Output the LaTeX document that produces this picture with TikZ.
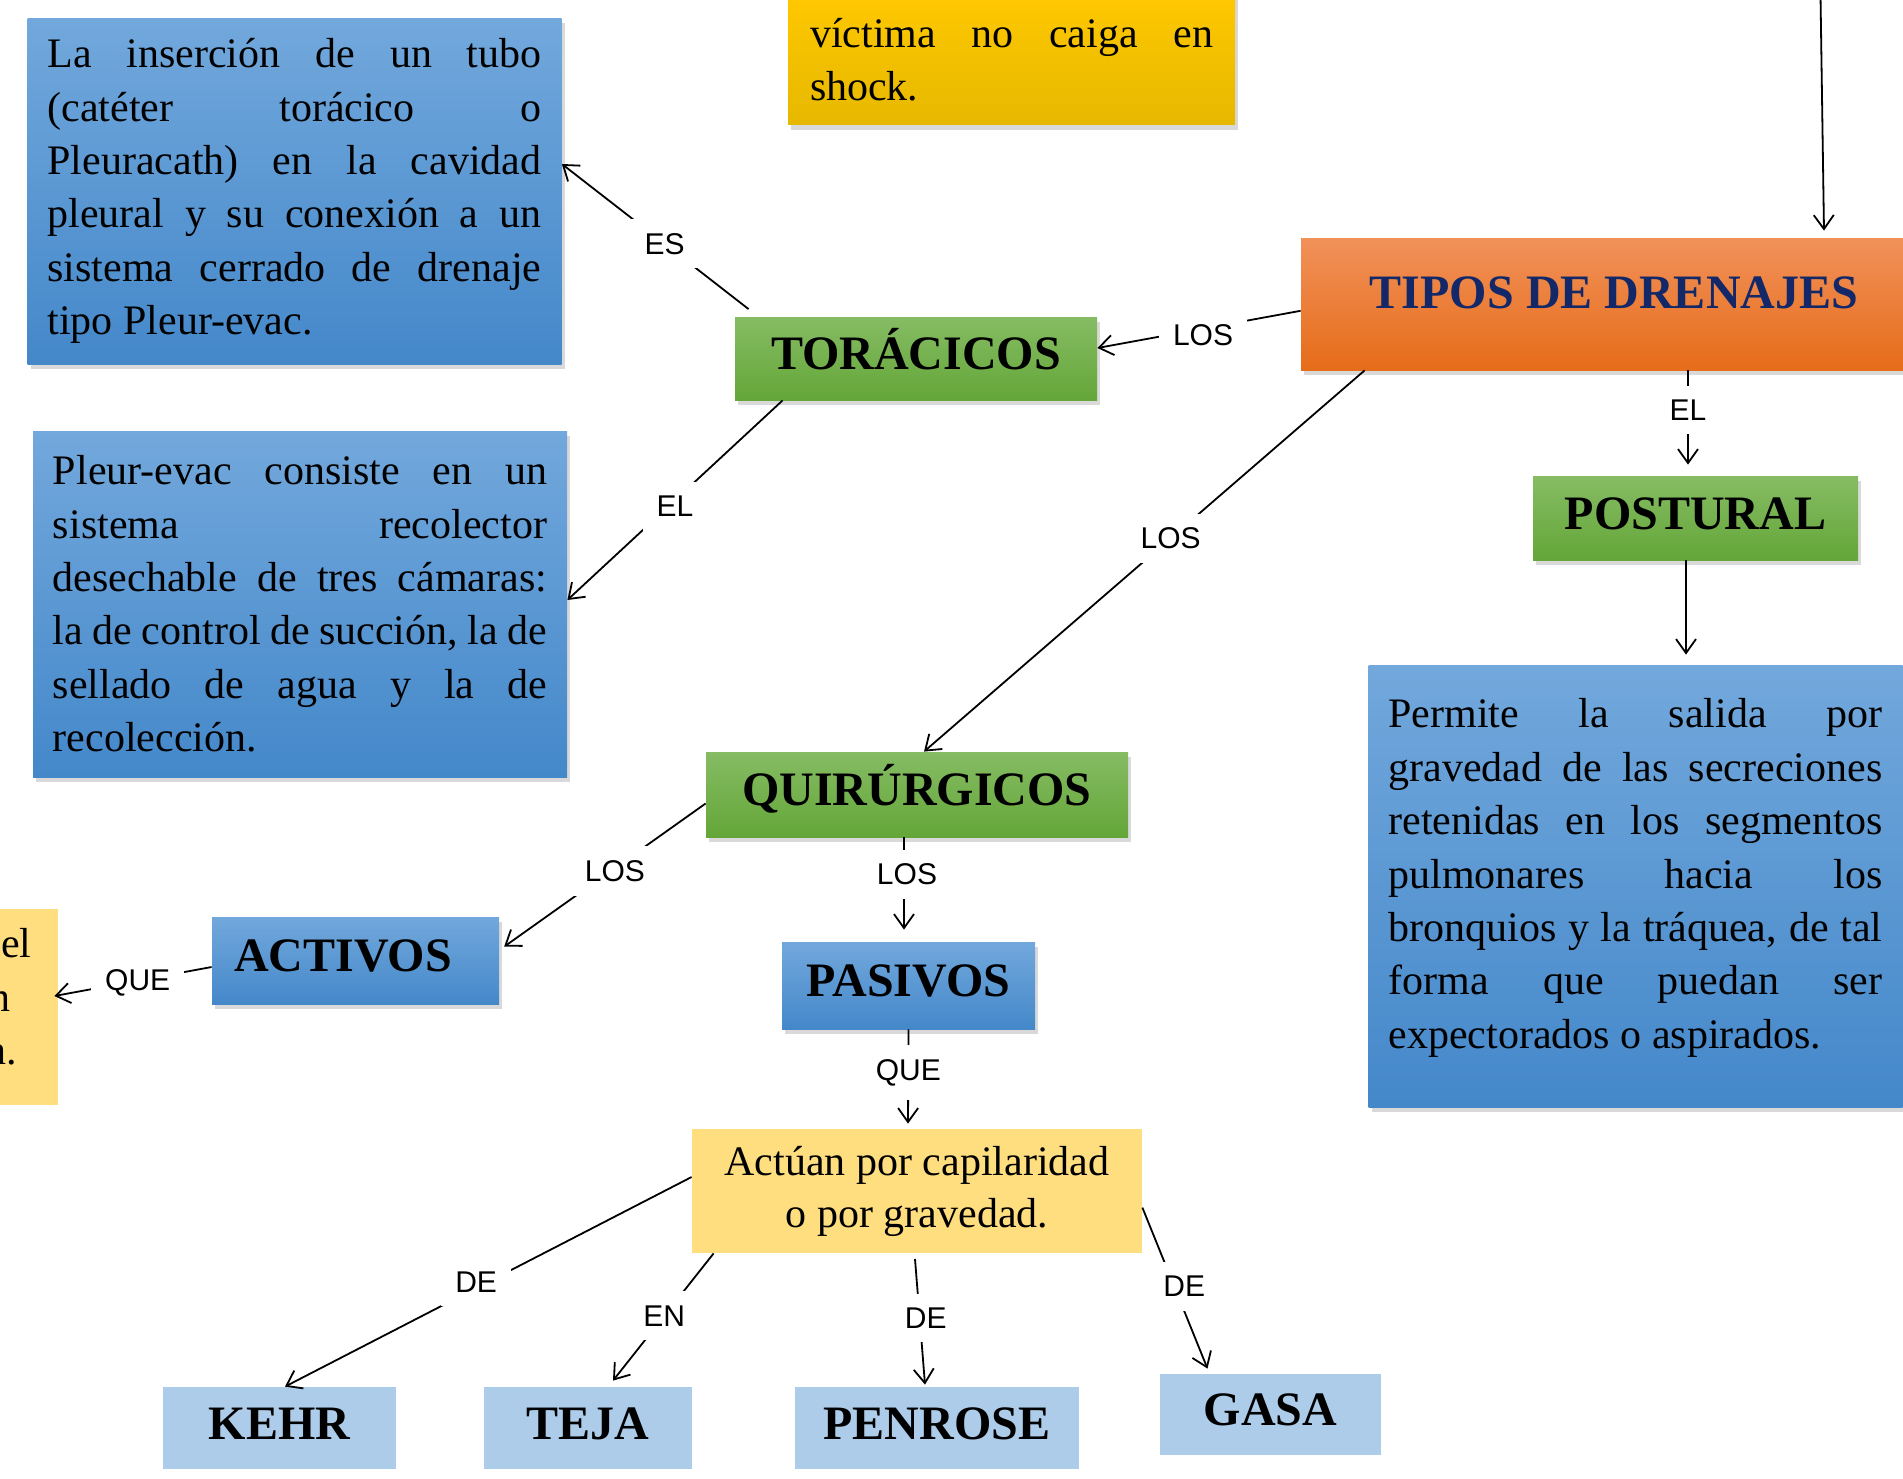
\documentclass[tikz,border=0pt]{standalone}
\usepackage{fontspec}
\setmainfont{Liberation Serif}
\newfontfamily\lblfont{Liberation Sans}
\usepackage{xcolor}
\usepackage{tikz}
\usetikzlibrary{arrows.meta,positioning,shadows}
\setlength{\parindent}{0pt}
\tolerance=10000
\hbadness=10000

\definecolor{blueTop}{RGB}{114,168,220}
\definecolor{blueBot}{RGB}{68,136,202}
\definecolor{greenTop}{RGB}{134,188,100}
\definecolor{greenBot}{RGB}{100,166,56}
\definecolor{orangeTop}{RGB}{241,145,90}
\definecolor{orangeBot}{RGB}{230,108,25}
\definecolor{goldTop}{RGB}{255,200,0}
\definecolor{goldBot}{RGB}{230,184,0}
\definecolor{paleYellow}{RGB}{255,222,128}
\definecolor{paleBlue}{RGB}{172,204,234}
\definecolor{navyText}{RGB}{18,40,105}

\begin{document}
\begin{tikzpicture}[x=0.5pt, y=-0.5pt]
    % Styles
    \tikzstyle{card} = [rectangle, inner sep=0pt, drop shadow={shadow xshift=1.5pt, shadow yshift=-2.5pt, opacity=0.3}]
    \tikzstyle{bluecard} = [card, top color=blueTop, bottom color=blueBot]
    \tikzstyle{greencard} = [card, top color=greenTop, bottom color=greenBot]
    \tikzstyle{orangecard} = [card, top color=orangeTop, bottom color=orangeBot]
    \tikzstyle{goldcard} = [card, top color=goldTop, bottom color=goldBot]
    \tikzstyle{paleyellow} = [rectangle, inner sep=0pt, fill=paleYellow]
    \tikzstyle{paleblue} = [rectangle, inner sep=0pt, fill=paleBlue]
    \tikzstyle{para} = [text width=247pt, align=justify, inner xsep=10pt, font=\fontsize{21}{26.7}\selectfont]
    \tikzstyle{head} = [font=\fontsize{24}{28}\selectfont\bfseries, text height=16pt, text depth=5pt]
    \tikzstyle{arrow} = [line width=0.9pt, -{Straight Barb[length=7pt,width=10pt]}]
    \tikzstyle{tag} = [fill=white, inner sep=7pt, font=\lblfont\fontsize{15}{18}\selectfont]

    \useasboundingbox (0,0) rectangle (1903,1479);
    \clip (0,0) rectangle (1903,1479);

    % Nodes - main concept
    \node [orangecard, head, text=navyText, minimum width=313pt, minimum height=66pt, text height=17pt, text depth=13pt] (tipos) at (1614,304) {TIPOS DE DRENAJES};
    \node [goldcard, para, text width=201.5pt, inner xsep=11pt, minimum height=65pt, anchor=south] (shock) at (1011.5,125) {víctima no caiga en\linebreak shock.};
    \coordinate (fromtop) at (1820.5,-5);

    % Toracicos branch
    \node [greencard, head, minimum width=181pt, minimum height=41.5pt] (toracicos) at (916,358.5) {TORÁCICOS};
    \node [bluecard, para, minimum height=173pt] (insercion) at (294.5,191) {La inserción de un tubo\linebreak (catéter torácico o\linebreak Pleuracath) en la cavidad\linebreak pleural y su conexión a un\linebreak sistema cerrado de drenaje\linebreak tipo Pleur-evac.};
    \node [bluecard, para, minimum height=173pt] (pleurevac) at (300,604) {Pleur-evac consiste en un\linebreak sistema recolector\linebreak desechable de tres cámaras:\linebreak la de control de succión, la de\linebreak sellado de agua y la de\linebreak recolección.};

    % Postural branch
    \node [greencard, head, minimum width=162.5pt, minimum height=42pt] (postural) at (1695.5,518) {POSTURAL};
    \node [bluecard, para, minimum height=221pt] (permite) at (1635.5,886) {Permite la salida por\linebreak gravedad de las secreciones\linebreak retenidas en los segmentos\linebreak pulmonares hacia los\linebreak bronquios y la tráquea, de tal\linebreak forma que puedan ser\linebreak expectorados o aspirados.\par\vspace*{8pt}\hrule height 0pt};

    % Quirurgicos branch
    \node [greencard, head, minimum width=211pt, minimum height=42.5pt] (quirurgicos) at (917,794.5) {QUIRÚRGICOS};
    \node [bluecard, head, text width=121.5pt, align=left, inner xsep=11pt, minimum height=43.5pt] (activos) at (355.5,960.5) {ACTIVOS};
    \node [bluecard, head, minimum width=126.5pt, minimum height=43.5pt] (pasivos) at (908.5,985.5) {PASIVOS};
    \node [paleyellow, anchor=east, text width=40pt, align=right, inner xsep=13pt, minimum height=98pt, font=\fontsize{21}{26.7}\selectfont] (activodesc) at (58,1007) {el\\ n\kern10.5pt\\ n.\kern7.5pt\par\vspace*{10pt}\hrule height 0pt};
    \node [paleyellow, align=center, minimum width=225pt, minimum height=62pt, font=\fontsize{21}{26}\selectfont] (actuan) at (917,1191) {Actúan por capilaridad\\ o por gravedad.};

    % Pasivos kinds
    \node [paleblue, head, minimum width=116.5pt, minimum height=41pt] (kehr) at (279.5,1428) {KEHR};
    \node [paleblue, head, minimum width=104pt, minimum height=41pt] (teja) at (588,1428) {TEJA};
    \node [paleblue, head, minimum width=142pt, minimum height=41pt] (penrose) at (937,1428) {PENROSE};
    \node [paleblue, head, minimum width=110.5pt, minimum height=40.5pt] (gasa) at (1270.5,1414.5) {GASA};

    % Connectors
    \draw[arrow] (fromtop) -- ([xshift=105pt,yshift=3.5pt]tipos.north);
    \draw[arrow] ([yshift=-3.4pt]tipos.west) -- node[tag, pos=0.48, yshift=-3.5pt] {LOS} ([yshift=5.25pt]toracicos.east);
    \draw[arrow] ([xshift=7pt,yshift=3.75pt]toracicos.north west) -- node[tag, pos=0.45] {ES} ([yshift=13.5pt]insercion.east);
    \draw[arrow] ([xshift=24pt]toracicos.south west) -- node[tag, pos=0.5, yshift=-3pt] {EL} ([yshift=2pt]pleurevac.east);
    \draw[arrow] ([xshift=37pt]tipos.south) -- node[tag, pos=0.42] {EL} ([xshift=-3.75pt,yshift=5.5pt]postural.north);
    \draw[arrow] ([xshift=-4.75pt]postural.south) -- ([xshift=25.25pt,yshift=5pt]permite.north);
    \draw[arrow] ([xshift=32pt]tipos.south west) -- node[tag, pos=0.44] {LOS} ([xshift=3.5pt]quirurgicos.north);
    \draw[arrow] ([yshift=-4.5pt]quirurgicos.west) -- node[tag, pos=0.45, yshift=-1.5pt] {LOS} ([xshift=2.35pt,yshift=6.9pt]activos.east);
    \draw[arrow] ([xshift=-6.5pt]quirurgicos.south) -- node[tag, pos=0.4, xshift=1.5pt] {LOS} ([xshift=-2.25pt,yshift=6pt]pasivos.north);
    \draw[arrow] ([yshift=-3.25pt]activos.west) -- node[tag, pos=0.47, yshift=-1pt] {QUE} ([xshift=-1.8pt,yshift=5.5pt]activodesc.east);
    \draw[arrow] (pasivos.south) -- node[tag, pos=0.46] {QUE} ([xshift=-4.5pt,yshift=2.5pt]actuan.north);
    \draw[arrow] ([yshift=7pt]actuan.west) -- node[tag, pos=0.53, yshift=3pt] {DE} ([xshift=2.75pt]kehr.north);
    \draw[arrow] ([xshift=11pt]actuan.south west) -- node[tag, pos=0.49] {EN} ([xshift=12.5pt,yshift=3pt]teja.north);
    \draw[arrow] ([xshift=-1pt,yshift=-2.8pt]actuan.south) -- node[tag, pos=0.47, xshift=3pt] {DE} ([xshift=-6pt,yshift=1pt]penrose.north);
    \draw[arrow] ([yshift=-8.3pt]actuan.east) -- node[tag, pos=0.49, xshift=5pt] {DE} ([xshift=-31.5pt,yshift=2.5pt]gasa.north);
\end{tikzpicture}
\end{document}
